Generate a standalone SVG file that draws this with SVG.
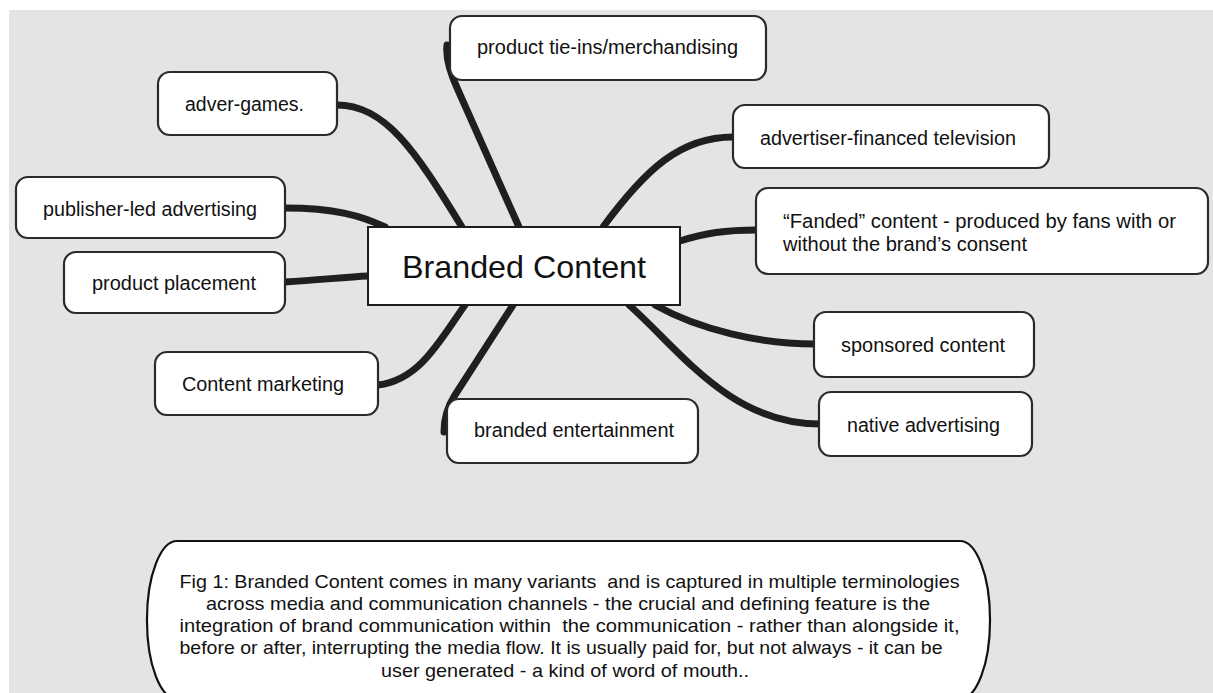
<svg xmlns="http://www.w3.org/2000/svg" width="1213" height="693" viewBox="0 0 1213 693">
<style>
.node{fill:#ffffff;stroke:#2a2a2a;stroke-width:2.2}
.center{fill:#ffffff;stroke:#1c1c1c;stroke-width:2}
.lbl{font-family:"Liberation Sans",Arial,Helvetica,sans-serif;font-size:20px;fill:#111111}
.big{font-family:"Liberation Sans",Arial,Helvetica,sans-serif;font-size:32px;fill:#111111}
.cap{font-family:"Liberation Sans",Arial,Helvetica,sans-serif;font-size:18.5px;fill:#111111;white-space:pre}
.conn path{fill:none;stroke:#1f1f1f;stroke-width:7;stroke-linecap:round}
</style>
<rect x="0" y="0" width="1213" height="693" fill="#ffffff"/>
<rect x="9" y="10" width="1204" height="683" fill="#e4e4e4"/>
<g id="connectors" class="conn">
<path d="M337,105 C385,105 415,150 462,227"/>
<path d="M285,208 C335,208 362,216 385,227"/>
<path d="M285,282 C320,280 345,277 368,276"/>
<path d="M378,385 C420,380 440,340 465,305"/>
<path d="M513,305 L455,395 Q444,412 444,432"/>
<path d="M519,227 L458,90 Q445,62 447,45"/>
<path d="M603,227 C645,170 680,137 733,137"/>
<path d="M680,241 C705,233 725,230 757,230"/>
<path d="M655,305 C700,330 760,344 815,344"/>
<path d="M629,305 C680,350 730,424 820,424"/>
</g>
<g id="n-advergames"><rect class="node" x="158" y="72" width="179" height="63" rx="12"/><text class="lbl" x="185" y="111" textLength="119" lengthAdjust="spacingAndGlyphs">adver-games.</text></g>
<g id="n-publisher"><rect class="node" x="16" y="177" width="269" height="61" rx="12"/><text class="lbl" x="43" y="216" textLength="214" lengthAdjust="spacingAndGlyphs">publisher-led advertising</text></g>
<g id="n-placement"><rect class="node" x="64" y="252" width="221" height="61" rx="12"/><text class="lbl" x="92" y="290" textLength="164" lengthAdjust="spacingAndGlyphs">product placement</text></g>
<g id="n-contentmarketing"><rect class="node" x="155" y="352" width="223" height="63" rx="12"/><text class="lbl" x="182" y="391" textLength="162" lengthAdjust="spacingAndGlyphs">Content marketing</text></g>
<g id="n-entertainment"><rect class="node" x="447" y="399" width="251" height="64" rx="12"/><text class="lbl" x="474" y="437" textLength="200" lengthAdjust="spacingAndGlyphs">branded entertainment</text></g>
<g id="n-tieins"><rect class="node" x="450" y="16" width="316" height="64" rx="12"/><text class="lbl" x="477" y="54" textLength="261" lengthAdjust="spacingAndGlyphs">product tie-ins/merchandising</text></g>
<g id="n-aft"><rect class="node" x="733" y="105" width="316" height="63" rx="12"/><text class="lbl" x="760" y="145" textLength="256" lengthAdjust="spacingAndGlyphs">advertiser-financed television</text></g>
<g id="n-fanded"><rect class="node" x="756" y="188" width="452" height="86" rx="12"/><text class="lbl" x="783" y="228" textLength="393" lengthAdjust="spacingAndGlyphs">“Fanded” content - produced by fans with or</text><text class="lbl" x="783" y="251" textLength="244" lengthAdjust="spacingAndGlyphs">without the brand’s consent</text></g>
<g id="n-sponsored"><rect class="node" x="814" y="312" width="220" height="65" rx="12"/><text class="lbl" x="841" y="352" textLength="164" lengthAdjust="spacingAndGlyphs">sponsored content</text></g>
<g id="n-native"><rect class="node" x="819" y="392" width="213" height="64" rx="12"/><text class="lbl" x="847" y="432" textLength="153" lengthAdjust="spacingAndGlyphs">native advertising</text></g>
<g id="n-center"><rect class="center" x="368" y="227" width="312" height="78"/><text class="big" x="402" y="278" textLength="244" lengthAdjust="spacingAndGlyphs">Branded Content</text></g>
<g id="caption">
<rect class="node" x="147" y="541" width="843" height="158" rx="30" ry="78" stroke-width="2.4" style="stroke:#111"/>
<text class="cap" x="179.5" y="588" textLength="780" lengthAdjust="spacingAndGlyphs">Fig 1: Branded Content comes in many variants  and is captured in multiple terminologies</text>
<text class="cap" x="206" y="610" textLength="724" lengthAdjust="spacingAndGlyphs">across media and communication channels - the crucial and defining feature is the</text>
<text class="cap" x="179.5" y="632" textLength="780" lengthAdjust="spacingAndGlyphs">integration of brand communication within  the communication - rather than alongside it,</text>
<text class="cap" x="179.5" y="654" textLength="763" lengthAdjust="spacingAndGlyphs">before or after, interrupting the media flow. It is usually paid for, but not always - it can be</text>
<text class="cap" x="381" y="677" textLength="368" lengthAdjust="spacingAndGlyphs">user generated - a kind of word of mouth..</text>
</g>
</svg>
